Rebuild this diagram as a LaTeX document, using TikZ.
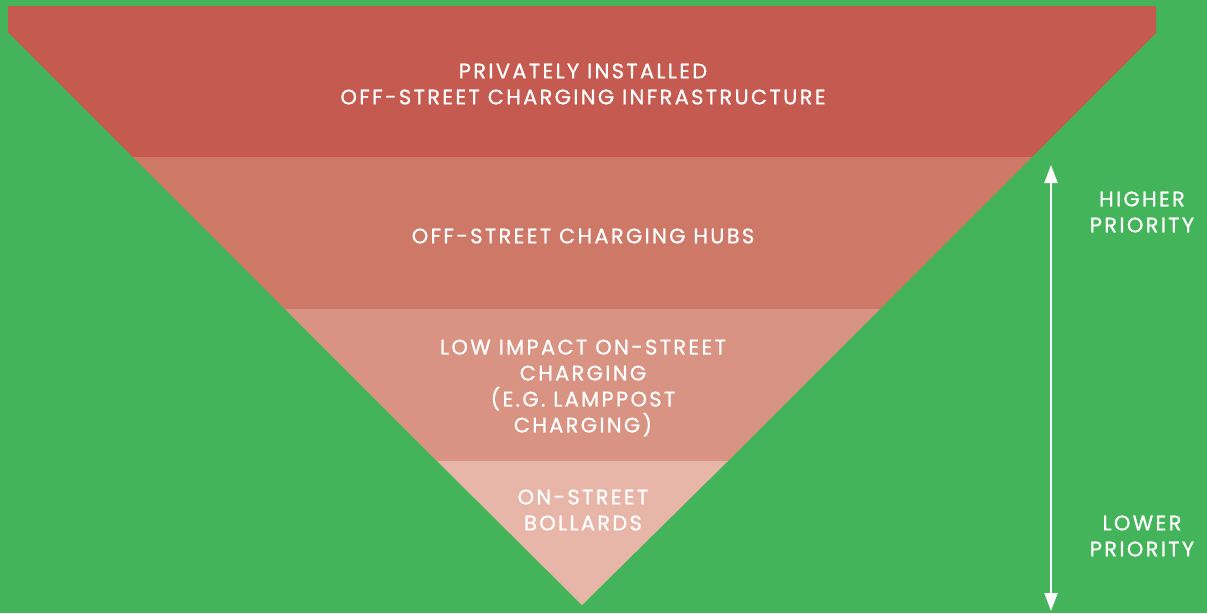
\documentclass[tikz,border=0pt]{standalone}
\usepackage{fontspec}
\setmainfont{Poppins}[LetterSpace=11,FakeBold=0.8]
\usetikzlibrary{arrows.meta}
\definecolor{bggreen}{HTML}{43B45A}
\definecolor{bandA}{HTML}{C55A50}
\definecolor{bandB}{HTML}{CE7868}
\definecolor{bandC}{HTML}{D99383}
\definecolor{bandD}{HTML}{E8B6A8}
\begin{document}
\begin{tikzpicture}[x=1pt,y=-1pt,
  lbl/.style={text=white,align=center,font=\fontsize{21}{26}\selectfont,inner sep=0pt},
  band/.style={draw=none}]
\fill[bggreen] (0,0) rectangle (1207,613);
\useasboundingbox (0,0) rectangle (1207,613);
% corner points of the inverted triangle
\coordinate (apex) at (582,605);
% four priority bands, top to bottom
\fill[bandA] (8,6) -- (1156,6) -- (1156,33) -- (1032,157) -- (133,157) -- (8,32) -- cycle;
\fill[bandB] (133,157) -- (1032,157) -- (880,309) -- (285,309) -- cycle;
\fill[bandC] (285,309) -- (880,309) -- (728,461) -- (437,461) -- cycle;
\fill[bandD] (437,461) -- (728,461) -- (apex) -- cycle;
% band labels
\node[lbl] (t1) at (583,84) {PRIVATELY INSTALLED\\OFF-STREET CHARGING INFRASTRUCTURE};
\node[lbl] (t2) at (583,236) {OFF-STREET CHARGING HUBS};
\node[lbl] (t3) at (583,388) {LOW IMPACT ON-STREET\\CHARGING\\(E.G. LAMPPOST\\CHARGING)};
\node[lbl] (t4) at (583,510) {ON-STREET\\BOLLARDS};
% priority scale
\coordinate (top) at (1051,165);
\coordinate (bot) at (1051,611);
\draw[white,line width=2pt,{Triangle[length=18pt,width=13pt]}-{Triangle[length=18pt,width=13pt]}] (top) -- (bot);
\node[lbl] (hi) at (1142,212) {HIGHER\\PRIORITY};
\node[lbl] (lo) at (1142,536) {LOWER\\PRIORITY};
\end{tikzpicture}
\end{document}
